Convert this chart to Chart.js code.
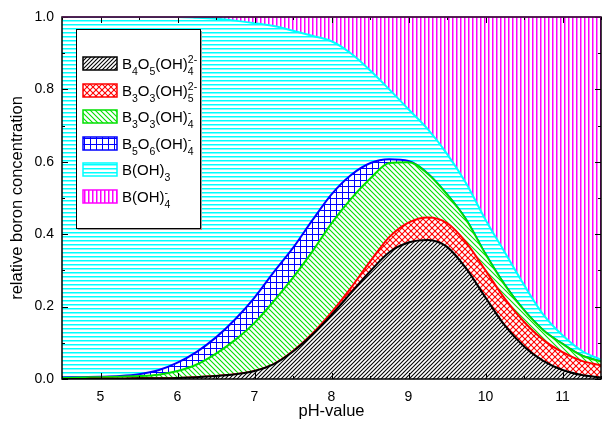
<!DOCTYPE html>
<html lang="en">
<head>
<meta charset="UTF-8">
<title>Boron speciation vs pH</title>
<script src="https://cdn.jsdelivr.net/npm/chart.js"></script>
<style>
  body { margin: 0; background: #fff; }
  #wrap { width: 602px; height: 421px; position: relative; }
</style>
</head>
<body>
<div id="wrap"><canvas id="speciesChart"></canvas></div>
<script>
// pH grid the values were read at
const ph = [4.5, 4.75, 5, 5.25, 5.5, 5.75, 6, 6.25, 6.5, 6.75, 7, 7.25, 7.5, 7.75, 8, 8.25, 8.5, 8.75, 9, 9.25, 9.5, 9.75, 10, 10.25, 10.5, 10.75, 11, 11.25, 11.5];
const xTicks = [5, 6, 7, 8, 9, 10, 11];

// fraction of total boron for each species, stacked bottom to top
const b4o5 = [0, 0, 0.001, 0.001, 0.002, 0.002, 0.003, 0.005, 0.008, 0.013, 0.022, 0.041, 0.076, 0.122, 0.177, 0.237, 0.297, 0.35, 0.377, 0.384, 0.365, 0.305, 0.225, 0.148, 0.09, 0.05, 0.025, 0.011, 0.004];
const b3o3oh5 = [0, 0, 0, 0, 0, 0, 0, 0, 0, 0, 0, 0, 0.001, 0.003, 0.007, 0.014, 0.027, 0.042, 0.055, 0.062, 0.066, 0.072, 0.075, 0.074, 0.068, 0.058, 0.049, 0.039, 0.034];
const b3o3oh4 = [0.003, 0.004, 0.004, 0.005, 0.006, 0.01, 0.019, 0.035, 0.062, 0.095, 0.133, 0.174, 0.203, 0.227, 0.246, 0.246, 0.229, 0.205, 0.167, 0.121, 0.079, 0.063, 0.045, 0.038, 0.032, 0.027, 0.023, 0.015, 0.01];
const b5o6 = [0.001, 0.001, 0.001, 0.002, 0.005, 0.012, 0.023, 0.035, 0.045, 0.057, 0.07, 0.08, 0.082, 0.086, 0.08, 0.066, 0.043, 0.01, 0.003, 0.001, 0, 0, 0, 0, 0, 0, 0, 0, 0];
const boh3 = [0.996, 0.995, 0.994, 0.992, 0.987, 0.976, 0.955, 0.923, 0.88, 0.825, 0.758, 0.68, 0.6, 0.51, 0.423, 0.337, 0.257, 0.193, 0.143, 0.122, 0.112, 0.1, 0.095, 0.09, 0.07, 0.043, 0.024, 0.013, 0.005];
const boh4 = [0, 0, 0, 0, 0, 0, 0, 0.002, 0.005, 0.01, 0.017, 0.025, 0.038, 0.052, 0.067, 0.1, 0.147, 0.2, 0.255, 0.31, 0.378, 0.46, 0.56, 0.65, 0.74, 0.822, 0.879, 0.922, 0.947];

// legend text: _x = subscript, ^{..} = superscript
const speciesLabels = ['B_4O_5(OH)_4^{2-}', 'B_3O_3(OH)_5^{2-}', 'B_3O_3(OH)_4^{-}', 'B_5O_6(OH)_4^{-}', 'B(OH)_3', 'B(OH)_4^{-}'];
const speciesData = [b4o5, b3o3oh5, b3o3oh4, b5o6, boh3, boh4];
const speciesColors = ['#000000', '#ff0000', '#00e000', '#0000ff', '#00ffff', '#ff00ff'];
const speciesHatch = ['diag', 'cross', 'back', 'grid', 'horiz', 'vert'];

const FONT = '"Liberation Sans", Arial, sans-serif';

function makePattern(kind, color) {
    const s = { diag: 4, cross: 6, back: 5, grid: 6, horiz: 4, vert: 4 }[kind];
    const c = document.createElement('canvas');
    c.width = s; c.height = s;
    const g = c.getContext('2d');
    g.fillStyle = '#ffffff';
    g.fillRect(0, 0, s, s);
    g.strokeStyle = color;
    g.fillStyle = color;
    g.lineWidth = 1.1;
    const line = (x1, y1, x2, y2) => { g.beginPath(); g.moveTo(x1, y1); g.lineTo(x2, y2); g.stroke(); };
    if (kind === 'diag' || kind === 'cross') {
        line(-1, s + 1, s + 1, -1); line(-1, 1, 1, -1); line(s - 1, s + 1, s + 1, s - 1);
    }
    if (kind === 'back' || kind === 'cross') {
        line(-1, -1, s + 1, s + 1); line(s - 1, -1, s + 1, 1); line(-1, s - 1, 1, s + 1);
    }
    if (kind === 'grid') { g.fillRect(0, 0, s, 1); g.fillRect(0, 0, 1, s); }
    if (kind === 'horiz') { g.fillRect(0, 0, s, 1); g.globalAlpha = 0.5; g.fillRect(0, 1, s, 1); }
    if (kind === 'vert') { g.fillRect(0, 0, 1, s); g.globalAlpha = 0.5; g.fillRect(1, 0, 1, s); }
    return g.createPattern(c, 'repeat');
}

// draw a formula with sub/superscripts
function drawFormula(ctx, txt, x, y) {
    const big = '15px ' + FONT, small = '10.5px ' + FONT;
    let i = 0, subX = null, run = '';
    const flush = () => {
        if (!run) return;
        ctx.font = big; ctx.fillText(run, x, y);
        x += ctx.measureText(run).width; run = '';
    };
    while (i < txt.length) {
        const ch = txt[i];
        if (ch === '_') {
            flush();
            const t = txt[i + 1];
            ctx.font = small; ctx.fillText(t, x, y + 6);
            subX = x; x += ctx.measureText(t).width; i += 2;
        } else if (ch === '^') {
            flush();
            const end = txt.indexOf('}', i);
            const t = txt.slice(i + 2, end);
            ctx.font = small;
            const sx = subX !== null ? subX : x;
            ctx.fillText(t, sx, y - 6);
            x = Math.max(x, sx + ctx.measureText(t).width);
            subX = null; i = end + 1;
        } else {
            run += ch; subX = null; i++;
        }
    }
    flush();
}

// frame with inward ticks on all four sides
const frameTicks = {
    id: 'frameTicks',
    afterDatasetsDraw(chart) {
        const { ctx, chartArea: a, scales: { x, y } } = chart;
        ctx.save();
        ctx.strokeStyle = '#000';
        ctx.lineWidth = 1;
        ctx.beginPath();
        for (let v = 4.5; v <= 11.5001; v += 0.5) {
            const px = Math.round(x.getPixelForValue(v)) + 0.5;
            const len = Number.isInteger(v) ? 6 : 3;
            ctx.moveTo(px, a.bottom); ctx.lineTo(px, a.bottom - len);
            ctx.moveTo(px, a.top); ctx.lineTo(px, a.top + len);
        }
        for (let k = 0; k <= 10; k++) {
            const py = Math.round(y.getPixelForValue(k / 10)) + 0.5;
            const len = k % 2 === 0 ? 6 : 3;
            ctx.moveTo(a.left, py); ctx.lineTo(a.left + len, py);
            ctx.moveTo(a.right, py); ctx.lineTo(a.right - len, py);
        }
        ctx.stroke();
        ctx.lineWidth = 1.5;
        ctx.strokeRect(a.left, a.top, a.right - a.left, a.bottom - a.top);
        ctx.strokeStyle = '#5a1a5a';
        ctx.beginPath(); ctx.moveTo(a.left, a.top); ctx.lineTo(a.right, a.top); ctx.stroke();
        ctx.restore();
    }
};

const legendBox = {
    id: 'legendBox',
    afterDraw(chart) {
        const ctx = chart.ctx, a = chart.chartArea;
        const x0 = a.left + 14, y0 = a.top + 12, w = 124, h = 199;
        ctx.save();
        ctx.fillStyle = '#9a9a9a'; ctx.fillRect(x0 + 2, y0 + 2, w, h);
        ctx.fillStyle = '#fff'; ctx.fillRect(x0, y0, w, h);
        ctx.strokeStyle = '#000'; ctx.lineWidth = 1;
        ctx.strokeRect(x0 + 0.5, y0 + 0.5, w, h);
        ctx.textBaseline = 'alphabetic';
        chart.data.datasets.forEach((ds, i) => {
            const cy = Math.round(y0 + 34 + i * 26.6);
            ctx.fillStyle = ds.backgroundColor;
            ctx.fillRect(x0 + 7, cy - 6, 34, 13);
            ctx.strokeStyle = ds.borderColor; ctx.lineWidth = 1.5;
            ctx.strokeRect(x0 + 7, cy - 6, 34, 13);
            ctx.fillStyle = '#000';
            drawFormula(ctx, ds.label, x0 + 46, cy + 5.5);
        });
        ctx.restore();
    }
};

const datasets = speciesLabels.map((label, i) => ({
    label: label,
    data: ph.map((p, k) => ({ x: p, y: speciesData[i][k] })),
    borderColor: speciesColors[i],
    backgroundColor: makePattern(speciesHatch[i], speciesColors[i]),
    borderWidth: i === 5 ? 0 : 2,
    fill: i === 0 ? 'origin' : '-1',
    pointRadius: 0,
    cubicInterpolationMode: 'monotone'
}));

new Chart(document.getElementById('speciesChart'), {
    type: 'line',
    data: { datasets: datasets },
    options: {
        responsive: true,
        maintainAspectRatio: false,
        animation: false,
        layout: { padding: { top: 17, right: 1, left: 0, bottom: 0 } },
        plugins: { legend: { display: false }, tooltip: { enabled: false } },
        scales: {
            x: {
                type: 'linear',
                min: 4.5,
                max: 11.5,
                afterBuildTicks: (s) => { s.ticks = xTicks.map(v => ({ value: v })); },
                afterFit: (s) => { s.height = 42; },
                grid: { display: false, drawTicks: false },
                border: { display: false },
                ticks: { padding: 10, color: '#000', font: { family: FONT, size: 14 } },
                title: { display: true, text: 'pH-value', color: '#000', padding: { top: 0, bottom: 0 }, font: { family: FONT, size: 16.5 } }
            },
            y: {
                stacked: true,
                min: 0,
                max: 1,
                afterFit: (s) => { s.width = 62; },
                grid: { display: false, drawTicks: false },
                border: { display: false },
                ticks: { stepSize: 0.2, padding: 8, color: '#000', font: { family: FONT, size: 14 }, callback: (v) => v.toFixed(1) },
                title: { display: true, text: 'relative boron concentration', color: '#000', padding: { top: 8, bottom: 0 }, font: { family: FONT, size: 16.5 } }
            }
        }
    },
    plugins: [frameTicks, legendBox]
});
</script>
</body>
</html>
